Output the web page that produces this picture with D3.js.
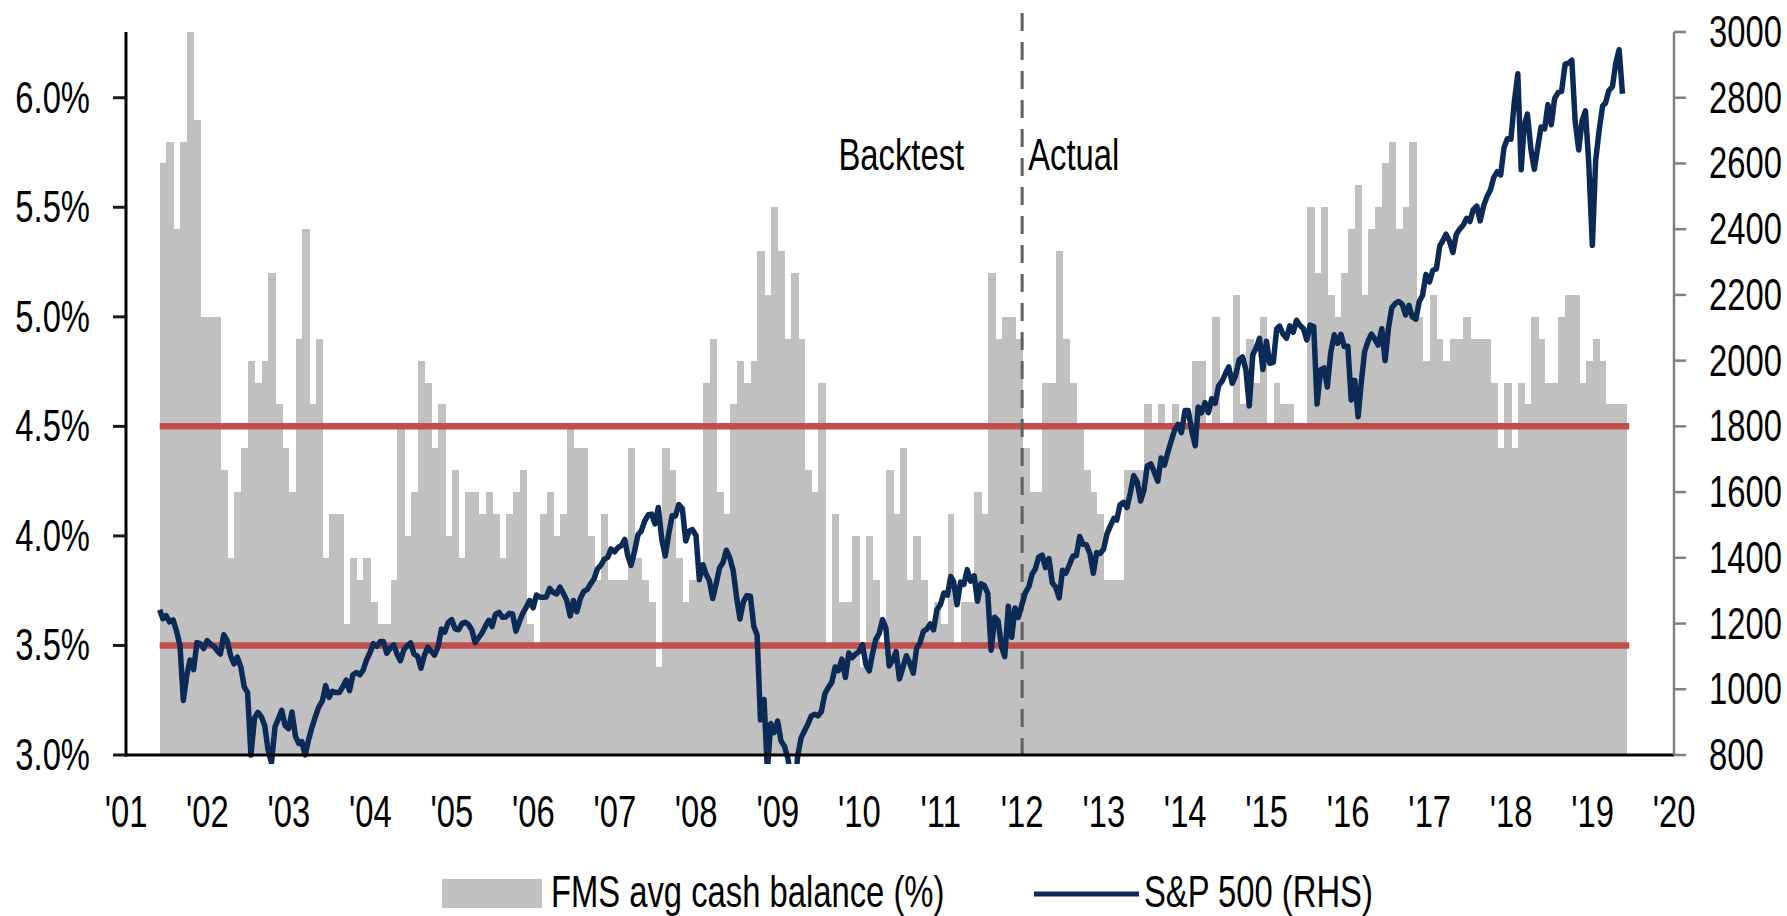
<!DOCTYPE html>
<html>
<head>
<meta charset="utf-8">
<script src="https://cdn.jsdelivr.net/npm/d3@7"></script>
<style>
  html, body { margin: 0; padding: 0; background: #fff; }
  svg { display: block; }
  text { font-family: "Liberation Sans", Arial, sans-serif; font-size: 44px; fill: #000; }
</style>
</head>
<body>
<div id="chart"></div>
<script>
// FMS avg cash balance (%), monthly, Jun 2001 .. May 2019
const cashStart = new Date(2001, 5, 1);
const cashBalance = [
  5.7, 5.8, 5.4, 5.8, 6.3, 5.9, 5.0,                           // 2001 Jun-Dec
  5.0, 5.0, 4.3, 3.9, 4.2, 4.4, 4.8, 4.7, 4.8, 5.2, 4.6, 4.4,  // 2002
  4.2, 4.9, 5.4, 4.6, 4.9, 3.9, 4.1, 4.1, 3.6, 3.9, 3.8, 3.9,  // 2003
  3.7, 3.6, 3.6, 3.8, 4.5, 4.0, 4.2, 4.8, 4.7, 4.4, 4.6, 4.0,  // 2004
  4.3, 3.9, 4.2, 4.2, 4.1, 4.2, 4.1, 3.9, 4.1, 4.2, 4.3, 3.6,  // 2005
  3.5, 4.1, 4.2, 4.0, 4.1, 4.5, 4.4, 4.4, 4.0, 3.8, 4.1, 3.8,  // 2006
  3.8, 3.8, 4.4, 3.9, 3.8, 3.7, 3.4, 4.4, 4.3, 3.9, 3.7, 3.8,  // 2007
  3.8, 4.7, 4.9, 4.2, 4.1, 4.6, 4.8, 4.7, 4.8, 5.3, 5.1, 5.5,  // 2008
  5.3, 4.9, 5.2, 4.9, 4.3, 4.2, 4.7, 3.5, 4.1, 3.7, 3.7, 4.0,  // 2009
  3.4, 4.0, 3.8, 3.5, 4.3, 4.1, 4.4, 3.8, 4.0, 3.8, 3.6, 3.7,  // 2010
  3.6, 4.1, 3.5, 3.7, 3.7, 4.2, 4.1, 5.2, 4.9, 5.0, 5.0, 4.9,  // 2011
  4.4, 4.2, 4.2, 4.7, 4.7, 5.3, 4.9, 4.7, 4.5, 4.3, 4.2, 4.1,  // 2012
  3.8, 3.8, 3.8, 4.3, 4.3, 4.3, 4.6, 4.5, 4.6, 4.5, 4.6, 4.5,  // 2013
  4.5, 4.8, 4.8, 4.5, 5.0, 4.5, 4.5, 5.1, 4.6, 4.9, 4.7, 5.0,  // 2014
  4.5, 4.7, 4.6, 4.6, 4.5, 4.5, 5.5, 5.2, 5.5, 5.1, 5.0, 5.2,  // 2015
  5.4, 5.6, 5.1, 5.4, 5.5, 5.7, 5.8, 5.4, 5.5, 5.8, 5.0, 4.8,  // 2016
  5.1, 4.9, 4.8, 4.9, 4.9, 5.0, 4.9, 4.9, 4.9, 4.7, 4.4, 4.7,  // 2017
  4.4, 4.7, 4.6, 5.0, 4.9, 4.7, 4.7, 5.0, 5.1, 5.1, 4.7, 4.8,  // 2018
  4.9, 4.8, 4.6, 4.6, 4.6                                      // 2019 Jan-May
];

// S&P 500, first point 1 Jun 2001, then [mid-month, month-end] pairs
const spxOpen = 1242;
const spx = [
  1215, 1224, 1205, 1211, 1178, 1134, 966, 1041, 1089, 1060, 1142, 1139, 1124, 1148,                 // 2001 Jun-Dec
  1138, 1130, 1116, 1107, 1166, 1147, 1102, 1077, 1098, 1067, 1007, 990, 800, 912, 930, 916, 889, 815, 776, 886, 910, 936, 890, 880,   // 2002
  931, 856, 835, 841, 800, 848, 885, 917, 946, 964, 1011, 975, 994, 990, 990, 1008, 1028, 996, 1044, 1051, 1044, 1058, 1089, 1112,     // 2003
  1139, 1131, 1145, 1145, 1110, 1126, 1135, 1107, 1087, 1121, 1133, 1141, 1107, 1101, 1064, 1104, 1128, 1115, 1104, 1130, 1183, 1174, 1203, 1212, // 2004
  1184, 1181, 1200, 1204, 1198, 1181, 1142, 1157, 1170, 1192, 1210, 1191, 1228, 1234, 1219, 1220, 1231, 1229, 1177, 1207, 1232, 1249, 1270, 1248, // 2005
  1287, 1280, 1280, 1281, 1307, 1295, 1290, 1311, 1292, 1270, 1223, 1270, 1236, 1277, 1298, 1304, 1321, 1336, 1366, 1378, 1396, 1401, 1427, 1418, // 2006
  1431, 1438, 1456, 1407, 1377, 1421, 1470, 1482, 1512, 1531, 1533, 1503, 1553, 1455, 1406, 1474, 1528, 1527, 1562, 1549, 1451, 1481, 1486, 1468, // 2007
  1333, 1379, 1349, 1331, 1276, 1323, 1370, 1386, 1423, 1400, 1360, 1280, 1214, 1267, 1285, 1283, 1192, 1165, 907, 969, 752, 896, 868, 903,       // 2008
  843, 826, 789, 735, 676, 798, 852, 873, 893, 919, 924, 919, 932, 987, 1005, 1021, 1068, 1057, 1092, 1036, 1110, 1096, 1107, 1115,            // 2009
  1136, 1074, 1056, 1104, 1150, 1169, 1212, 1187, 1071, 1089, 1115, 1031, 1065, 1102, 1080, 1049, 1125, 1141, 1176, 1183, 1199, 1181, 1242, 1258,  // 2010
  1293, 1286, 1343, 1327, 1257, 1326, 1319, 1364, 1329, 1345, 1268, 1321, 1316, 1292, 1119, 1219, 1209, 1131, 1099, 1253, 1158, 1247, 1219, 1258,  // 2011
  1293, 1312, 1351, 1366, 1402, 1408, 1370, 1398, 1324, 1310, 1278, 1362, 1353, 1379, 1405, 1407, 1465, 1441, 1440, 1412, 1353, 1416, 1413, 1426,  // 2012
  1472, 1498, 1520, 1515, 1562, 1569, 1553, 1598, 1650, 1631, 1573, 1606, 1680, 1686, 1661, 1633, 1704, 1682, 1721, 1757, 1790, 1806, 1781, 1848,  // 2013
  1848, 1783, 1741, 1859, 1841, 1872, 1842, 1884, 1870, 1924, 1937, 1960, 1981, 1931, 1955, 2003, 2011, 1972, 1862, 2018, 2039, 2068, 1973, 2059,  // 2014
  1992, 1995, 2097, 2105, 2081, 2068, 2106, 2086, 2123, 2107, 2097, 2063, 2108, 2104, 1868, 1972, 1978, 1920, 2023, 2079, 2053, 2080, 2043, 2044,  // 2015
  1880, 1940, 1829, 1932, 2027, 2060, 2081, 2065, 2047, 2097, 2000, 2099, 2161, 2174, 2180, 2171, 2139, 2168, 2133, 2126, 2180, 2199, 2262, 2239,  // 2016
  2275, 2279, 2349, 2364, 2385, 2363, 2329, 2384, 2400, 2412, 2433, 2423, 2459, 2470, 2425, 2472, 2500, 2519, 2557, 2575, 2565, 2648, 2675, 2674,  // 2017
  2786, 2873, 2581, 2714, 2750, 2641, 2582, 2648, 2711, 2705, 2779, 2718, 2798, 2816, 2819, 2902, 2905, 2914, 2728, 2641, 2730, 2760, 2600, 2351,  // 2018
  2610, 2704, 2775, 2784, 2822, 2834, 2905, 2946, 2812                                                  // 2019 Jan-mid May
];

const leftTicks = [3.0, 3.5, 4.0, 4.5, 5.0, 5.5, 6.0];
const rightTicks = [800, 1000, 1200, 1400, 1600, 1800, 2000, 2200, 2400, 2600, 2800, 3000];
const yearTicks = d3.range(2001, 2021);
const bands = [4.5, 3.5];
const splitDate = new Date(2012, 0, 1);

// ------------------------------------------------------------
const W = 1787, H = 916;
const SX = 0.745;   // horizontally condensed text, as in the source
const M = { left: 126, right: 1674, top: 32, bottom: 755 };

const svg = d3.select('#chart').append('svg')
    .attr('width', W).attr('height', H);

const x = d3.scaleTime()
    .domain([new Date(2001, 0, 1), new Date(2020, 0, 1)])
    .range([M.left, M.right]);
const yL = d3.scaleLinear().domain([3.0, 6.3]).range([M.bottom, M.top]);
const yR = d3.scaleLinear().domain([800, 3000]).range([M.bottom, M.top]);

function label(g, px, py, txt, anchor) {
    g.append('text')
        .attr('transform', `translate(${px},${py}) scale(${SX},1)`)
        .attr('text-anchor', anchor)
        .text(txt);
}

// Bars
const cash = cashBalance.map((v, i) => ({
    start: d3.timeMonth.offset(cashStart, i),
    end: d3.timeMonth.offset(cashStart, i + 1),
    v
}));
svg.append('g')
    .attr('shape-rendering', 'crispEdges')
    .selectAll('rect')
    .data(cash)
    .join('rect')
    .attr('x', d => x(d.start))
    .attr('width', d => x(d.end) - x(d.start) + 0.6)
    .attr('y', d => yL(d.v))
    .attr('height', d => yL(3.0) - yL(d.v))
    .attr('fill', '#c0c0c0');

// Red bands
svg.append('g')
    .selectAll('line')
    .data(bands)
    .join('line')
    .attr('x1', x(cashStart))
    .attr('x2', x(cash[cash.length - 1].end) + 3)
    .attr('y1', d => yL(d)).attr('y2', d => yL(d))
    .attr('stroke', '#c0504d')
    .attr('stroke-width', 6.5);

// Backtest / Actual divider
svg.append('line')
    .attr('x1', x(splitDate)).attr('x2', x(splitDate))
    .attr('y1', 13).attr('y2', M.bottom)
    .attr('stroke', '#606060')
    .attr('stroke-width', 3)
    .attr('stroke-dasharray', '18,11');

const notes = svg.append('g');
label(notes, x(splitDate) - 58, 170, 'Backtest', 'end');
label(notes, x(splitDate) + 6, 170, 'Actual', 'start');

// S&P 500 line
const spxPts = [{ date: cashStart, v: spxOpen }];
spx.forEach((v, j) => {
    const m = Math.floor(j / 2);
    const date = j % 2 === 0
        ? new Date(2001, 5 + m, 15)
        : new Date(2001, 5 + m + 1, 0);
    spxPts.push({ date, v });
});

svg.append('clipPath').attr('id', 'plotClip')
    .append('rect')
    .attr('x', 0).attr('y', 0)
    .attr('width', W).attr('height', M.bottom + 9);

svg.append('path')
    .datum(spxPts)
    .attr('clip-path', 'url(#plotClip)')
    .attr('fill', 'none')
    .attr('stroke', '#0c2a56')
    .attr('stroke-width', 5.5)
    .attr('stroke-linejoin', 'round')
    .attr('d', d3.line().x(d => x(d.date)).y(d => yR(d.v)));

// Axes
const axes = svg.append('g');
axes.append('line')
    .attr('x1', M.left).attr('x2', M.left)
    .attr('y1', M.top).attr('y2', M.bottom + 1.5)
    .attr('stroke', '#000').attr('stroke-width', 3);
axes.append('line')
    .attr('x1', M.left - 1.5).attr('x2', M.right)
    .attr('y1', M.bottom).attr('y2', M.bottom)
    .attr('stroke', '#000').attr('stroke-width', 3);
axes.append('line')
    .attr('x1', M.right).attr('x2', M.right)
    .attr('y1', yR(3000)).attr('y2', M.bottom)
    .attr('stroke', '#808080').attr('stroke-width', 2.5);

axes.append('g').selectAll('line')
    .data(leftTicks)
    .join('line')
    .attr('x1', M.left - 13).attr('x2', M.left)
    .attr('y1', d => yL(d)).attr('y2', d => yL(d))
    .attr('stroke', '#1a1a1a').attr('stroke-width', 3);

axes.append('g').selectAll('line')
    .data(rightTicks)
    .join('line')
    .attr('x1', M.right).attr('x2', M.right + 12)
    .attr('y1', d => yR(d)).attr('y2', d => yR(d))
    .attr('stroke', '#808080').attr('stroke-width', 2.5);

const leftLabels = axes.append('g');
leftTicks.forEach(t => label(leftLabels, 90, yL(t) + 15, t.toFixed(1) + '%', 'end'));

const rightLabels = axes.append('g');
rightTicks.forEach(t => label(rightLabels, 1709, yR(t) + 15, String(t), 'start'));

const xLabels = axes.append('g');
yearTicks.forEach(yr => label(xLabels, x(new Date(yr, 0, 1)), 827, "'" + String(yr).slice(2), 'middle'));

// Legend
const legend = svg.append('g');
legend.append('rect')
    .attr('x', 442).attr('y', 879)
    .attr('width', 100).attr('height', 29)
    .attr('fill', '#c0c0c0');
label(legend, 551, 907, 'FMS avg cash balance (%)', 'start');
legend.append('line')
    .attr('x1', 1034).attr('x2', 1139)
    .attr('y1', 894).attr('y2', 894)
    .attr('stroke', '#0c2a56').attr('stroke-width', 5);
label(legend, 1144, 907, 'S&P 500 (RHS)', 'start');
</script>
</body>
</html>
